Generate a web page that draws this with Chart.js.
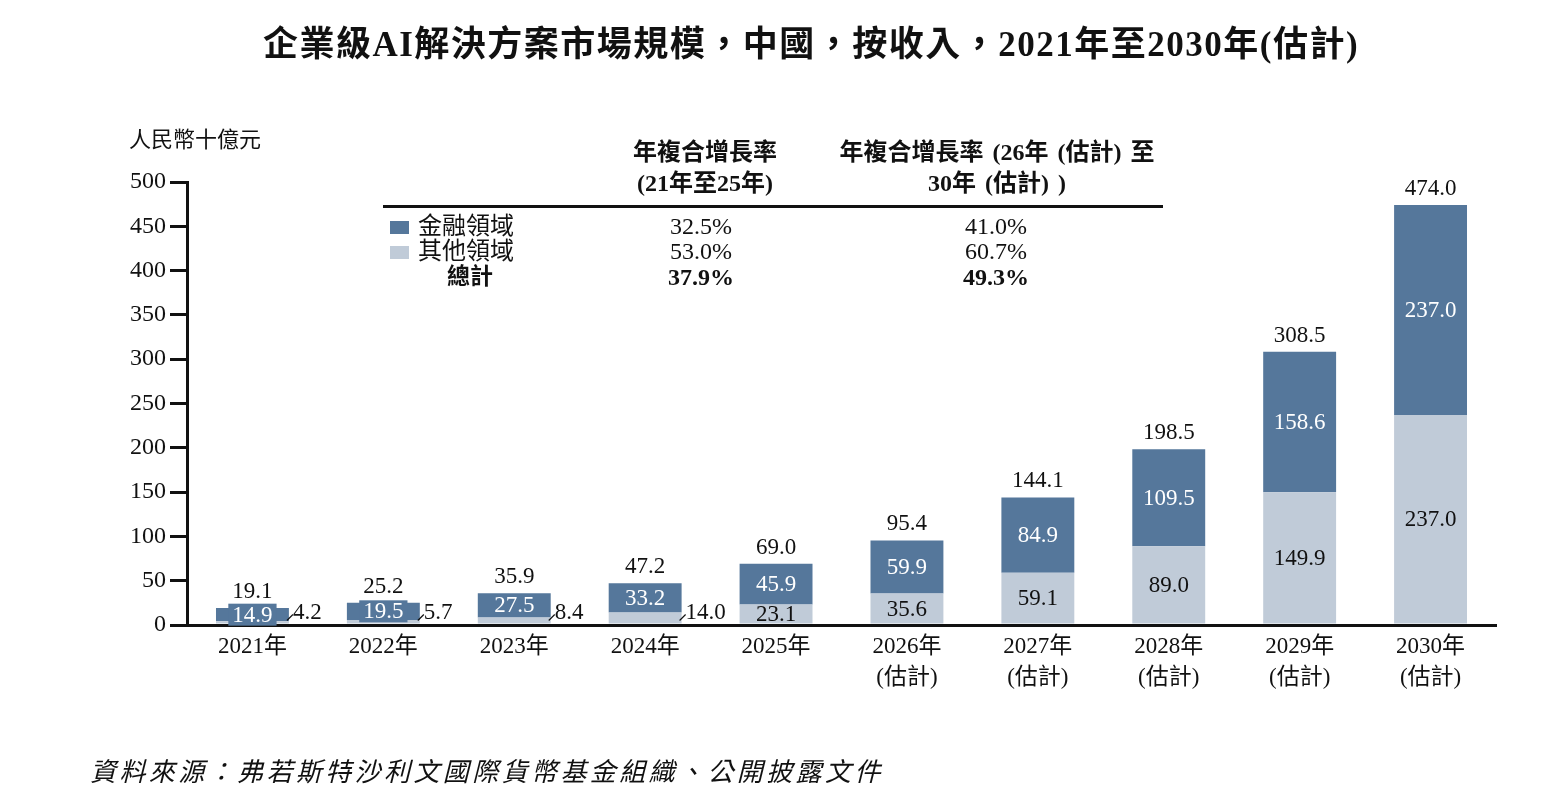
<!DOCTYPE html>
<html>
<head>
<meta charset="utf-8">
<script src="https://cdn.jsdelivr.net/npm/chart.js@4"></script>
<style>
  html, body { margin:0; padding:0; background:#fff; }
  #wrap { position:relative; width:1558px; height:806px; overflow:hidden; background:#fff; }
  canvas { position:absolute; left:0; top:0; }
  .t { position:absolute; white-space:nowrap; color:#111; font-family:"Liberation Serif","Noto Sans CJK TC",serif; }
  .c { transform:translateX(-50%); text-align:center; }
  .b { font-weight:bold; }
  .sq { position:absolute; width:19px; height:13px; }
</style>
</head>
<body>
<div id="wrap">
  <canvas id="chart" width="1558" height="806"></canvas>
  <div class="t b c" style="left:811px; top:24px; font-size:35px; line-height:42px; letter-spacing:1.5px;">企業級AI解決方案市場規模，中國，按收入，2021年至2030年(估計)</div>
  <div class="t" style="left:129px; top:127px; font-size:22px; line-height:26px;">人民幣十億元</div>

  <div class="t b c" style="left:705px; top:137px; font-size:24px; line-height:31px;">年複合增長率<br>(21年至25年)</div>
  <div class="t b c" style="left:997px; top:137px; font-size:24px; line-height:31px; word-spacing:3px;">年複合增長率 (26年 (估計) 至<br>30年 (估計) )</div>
  <div style="position:absolute; left:383px; top:205px; width:780px; height:3px; background:#111;"></div>

  <div class="sq" style="left:390px; top:221px; background:#55779b;"></div>
  <div class="sq" style="left:390px; top:246px; background:#c0cbd8;"></div>
  <div class="t" style="left:418px; top:213px; font-size:24px; line-height:26px;">金融領域</div>
  <div class="t" style="left:418px; top:238px; font-size:24px; line-height:26px;">其他領域</div>
  <div class="t b c" style="left:470px; top:264px; font-size:23px; line-height:26px;">總計</div>

  <div class="t c" style="left:701px; top:213px; font-size:24px; line-height:26px;">32.5%</div>
  <div class="t c" style="left:701px; top:238px; font-size:24px; line-height:26px;">53.0%</div>
  <div class="t b c" style="left:701px; top:264px; font-size:24px; line-height:26px;">37.9%</div>
  <div class="t c" style="left:996px; top:213px; font-size:24px; line-height:26px;">41.0%</div>
  <div class="t c" style="left:996px; top:238px; font-size:24px; line-height:26px;">60.7%</div>
  <div class="t b c" style="left:996px; top:264px; font-size:24px; line-height:26px;">49.3%</div>

  <div class="t" style="left:90px; top:757px; font-size:26px; line-height:32px; font-style:italic; letter-spacing:3.4px;">資料來源：弗若斯特沙利文國際貨幣基金組織、公開披露文件</div>
</div>
<script>
const years = ["2021年","2022年","2023年","2024年","2025年","2026年","2027年","2028年","2029年","2030年"];
const estimated = [false,false,false,false,false,true,true,true,true,true];
const finance = [14.9, 19.5, 27.5, 33.2, 45.9, 59.9, 84.9, 109.5, 158.6, 237.0];
const others  = [4.2, 5.7, 8.4, 14.0, 23.1, 35.6, 59.1, 89.0, 149.9, 237.0];
const totals  = [19.1, 25.2, 35.9, 47.2, 69.0, 95.4, 144.1, 198.5, 308.5, 474.0];
const yTicks = [0,50,100,150,200,250,300,350,400,450,500];

const DARK = '#55779b';
const LIGHT = '#c0cbd8';
const FONT = '"Liberation Serif","Noto Sans CJK TC",serif';

const labels = years.map((y,i) => estimated[i] ? [y, "(估計)"] : y);

const labelPlugin = {
  id: 'barLabels',
  afterDatasetsDraw(chart) {
    const ctx = chart.ctx;
    const mLight = chart.getDatasetMeta(0);
    const mDark = chart.getDatasetMeta(1);
    ctx.save();
    ctx.font = '23px ' + FONT;
    ctx.textAlign = 'center';
    ctx.textBaseline = 'middle';
    for (let i = 0; i < years.length; i++) {
      const eL = mLight.data[i], eD = mDark.data[i];
      const half = eD.width / 2;
      // dark (finance) label
      const dy = (eD.y + eD.base) / 2;
      const txtD = finance[i].toFixed(1);
      const w = ctx.measureText(txtD).width;
      if (eD.base - eD.y < 24) {
        ctx.fillStyle = DARK;
        ctx.fillRect(eD.x - w/2 - 4, dy - 11, w + 8, 22);
      }
      ctx.fillStyle = '#ffffff';
      ctx.fillText(txtD, eD.x, dy + 1);
      // light (others) label
      const txtL = others[i].toFixed(1);
      ctx.fillStyle = '#111';
      if (others[i] < 20) {
        const x0 = eL.x + half - 2, y0 = eL.base - 3;
        ctx.strokeStyle = '#111';
        ctx.lineWidth = 1.2;
        ctx.beginPath();
        ctx.moveTo(x0, y0);
        ctx.lineTo(x0 + 6, y0 - 6);
        ctx.stroke();
        ctx.textAlign = 'left';
        ctx.fillText(txtL, x0 + 6, eL.base - 11);
        ctx.textAlign = 'center';
      } else {
        ctx.fillText(txtL, eL.x, (eL.y + eL.base) / 2 + 1);
      }
      // total
      ctx.fillStyle = '#111';
      ctx.fillText(totals[i].toFixed(1), eD.x, eD.y - 16);
    }
    ctx.restore();
  }
};

new Chart(document.getElementById('chart'), {
  type: 'bar',
  data: {
    labels: labels,
    datasets: [
      { label: '其他領域', data: others, backgroundColor: LIGHT, borderWidth: 0 },
      { label: '金融領域', data: finance, backgroundColor: DARK, borderWidth: 0 }
    ]
  },
  options: {
    responsive: false,
    animation: false,
    devicePixelRatio: 1,
    layout: { padding: { top: 182, right: 62, bottom: 0, left: 0 } },
    plugins: { legend: { display: false }, tooltip: { enabled: false }, title: { display: false } },
    datasets: { bar: { categoryPercentage: 1.0, barPercentage: 0.557 } },
    scales: {
      x: {
        stacked: true,
        grid: { display: false, drawTicks: false },
        border: { display: true, color: '#111', width: 3 },
        ticks: { color: '#111', font: { family: FONT, size: 23, lineHeight: 1.35 }, padding: 6, maxRotation: 0, autoSkip: false },
        afterFit(scale) { scale.height = 181; }
      },
      y: {
        stacked: true,
        min: 0, max: 500,
        afterBuildTicks(scale) { scale.ticks = yTicks.map(v => ({ value: v })); },
        grid: { drawOnChartArea: false, drawTicks: true, tickLength: 17, color: '#111', lineWidth: 3 },
        border: { display: true, color: '#111', width: 3 },
        ticks: { color: '#111', font: { family: FONT, size: 24 }, padding: 4 },
        afterFit(scale) { scale.width = 187; }
      }
    }
  },
  plugins: [labelPlugin]
});
</script>
</body>
</html>
